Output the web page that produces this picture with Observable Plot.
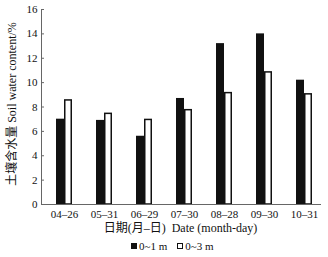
<!DOCTYPE html>
<html><head><meta charset="utf-8">
<script src="https://cdn.jsdelivr.net/npm/d3@7"></script>
<script src="https://cdn.jsdelivr.net/npm/@observablehq/plot@0.6"></script>
<style>
body{margin:0;background:#fff;font-family:"Liberation Serif","Times New Roman",Times,serif,"Noto Sans CJK SC";color:#111}
#legend{display:flex;gap:10px;margin-left:131px;margin-top:2px;font-size:11px;line-height:12px}
#legend span.item{display:flex;align-items:center;gap:2px}
#legend i{display:inline-block;width:6px;height:6px;box-sizing:border-box;border:1.5px solid #111}
</style>
</head><body><div id="chart"></div>
<script>
const dates = ["04–26","05–31","06–29","07–30","08–28","09–30","10–31"];
const depth01 = [7.0, 6.9, 5.6, 8.7, 13.2, 14.0, 10.2];
const depth03 = [8.6, 7.5, 7.0, 7.8, 9.2, 10.9, 9.1];
const seriesNames = ["0~1 m", "0~3 m"];
const yTicks = [0, 2, 4, 6, 8, 10, 12, 14, 16];
const xTitle = "日期(月–日)  Date (month-day)";
const yTitle = "土壤含水量 Soil water content/%";

const rows1 = dates.map((d, i) => ({date: d, value: depth01[i]}));
const rows3 = dates.map((d, i) => ({date: d, value: depth03[i]}));
const FONT = '"Liberation Serif","Times New Roman",Times,serif,"Noto Sans CJK SC"';

const plot = Plot.plot({
  width: 328,
  height: 238,
  marginTop: 9,
  marginBottom: 34,
  marginLeft: 41,
  marginRight: 7,
  style: {fontFamily: FONT, fontSize: "11px", color: "#111", background: "#fff"},
  x: {domain: dates, paddingInner: 0.608, paddingOuter: 0.233, align: 0.63, label: null},
  y: {domain: [0, 16], ticks: yTicks, label: null},
  marks: [
    Plot.barY(rows1, {x: "date", y: "value", fill: "#111", insetRight: 8}),
    Plot.barY(rows3, {x: "date", y: "value", fill: "#fff", stroke: "#111", strokeWidth: 1.5, insetLeft: 8.75, insetRight: 0.75, insetTop: 0.75}),
    Plot.axisY({ticks: yTicks, tickSize: -3, tickPadding: 7, stroke: "#666", label: null}),
    Plot.axisX({tickSize: 0, tickPadding: 6, label: null}),
    Plot.ruleY([0], {stroke: "#666"}),
    Plot.frame({anchor: "left", stroke: "#666"}),
    Plot.text([xTitle], {frameAnchor: "bottom", dy: 27, fontSize: 12, dx: -1}),
    Plot.text([yTitle], {frameAnchor: "left", dx: -29, dy: -3, rotate: -90, fontSize: 12, textAnchor: "middle"})
  ]
});
document.getElementById("chart").appendChild(plot);

const legend = document.createElement("div");
legend.id = "legend";
seriesNames.forEach((name, i) => {
  const s = document.createElement("span");
  s.className = "item";
  const sw = document.createElement("i");
  sw.style.background = i === 0 ? "#111" : "#fff";
  s.appendChild(sw);
  s.appendChild(document.createTextNode(name));
  legend.appendChild(s);
});
document.body.appendChild(legend);
</script>
</body></html>
